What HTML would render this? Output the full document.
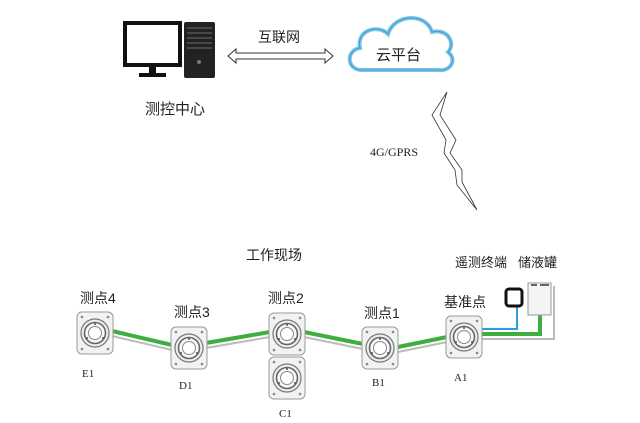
<!DOCTYPE html>
<html><head><meta charset="utf-8"><style>
body{margin:0;background:#fff;}
svg{display:block;}
text{font-family:"Liberation Sans","Noto Sans CJK SC",sans-serif;fill:#222;}
.s{font-family:"Liberation Serif","Noto Serif CJK SC",serif;}
</style></head><body>
<svg width="640" height="423" viewBox="0 0 640 423" xmlns="http://www.w3.org/2000/svg">
<defs>
<g id="node">
<rect x="-18" y="-21" width="36" height="42" rx="5" fill="#f2f2f2" stroke="#999" stroke-width="1"/>
<circle cx="-13" cy="-16" r="1.3" fill="#888"/><circle cx="13" cy="-16" r="1.3" fill="#888"/>
<circle cx="-13" cy="16" r="1.3" fill="#888"/><circle cx="13" cy="16" r="1.3" fill="#888"/>
<circle r="14" fill="#eee" stroke="#777" stroke-width="1.2"/>
<circle r="10.5" fill="#f8f8f8" stroke="#666" stroke-width="1.6"/>
<circle r="6.5" fill="#fff" stroke="#888" stroke-width="1"/>
<circle cx="0" cy="-9" r="1" fill="#555"/><circle cx="-8" cy="5" r="1" fill="#555"/><circle cx="8" cy="5" r="1" fill="#555"/>
</g>
</defs>
<rect x="125" y="23" width="55" height="42" fill="#fff" stroke="#111" stroke-width="4"/>
<rect x="149" y="65" width="7" height="9" fill="#111"/>
<rect x="139" y="73" width="27" height="4" fill="#111"/>
<rect x="184" y="22" width="31" height="56" rx="2" fill="#222"/>
<g stroke="#555" stroke-width="1.5"><line x1="187" y1="28" x2="212" y2="28"/><line x1="187" y1="33" x2="212" y2="33"/><line x1="187" y1="38" x2="212" y2="38"/><line x1="187" y1="43" x2="212" y2="43"/><line x1="187" y1="48" x2="212" y2="48"/></g>
<circle cx="199" cy="62" r="2" fill="#777"/>
<text x="145" y="114" font-size="15">测控中心</text>
<path d="M228,56 L236,49 L236,53 L325,53 L325,49 L333,56 L325,63 L325,59 L236,59 L236,63 Z" fill="#fff" stroke="#333" stroke-width="1"/>
<text x="258" y="42" font-size="14">互联网</text>
<path d="M362,70 C346,70 346,50 360,48 C356,30 378,24 388,34 C394,14 426,12 432,32 C448,28 456,44 448,52 C458,60 450,72 438,70 Z" fill="#fff" stroke="#7cc3e6" stroke-width="4"/>
<path d="M362,70 C346,70 346,50 360,48 C356,30 378,24 388,34 C394,14 426,12 432,32 C448,28 456,44 448,52 C458,60 450,72 438,70 Z" fill="none" stroke="#3a9fd0" stroke-width="1"/>
<text x="376" y="60" font-size="15">云平台</text>
<path d="M447,92 L432,115 L446,140 L444,153 L455,170 L457,185 L477,210 L462,182 L462,170 L450,153 L456,140 L440,115 Z" fill="#fff" stroke="#333" stroke-width="0.8"/>
<text class="s" x="370" y="156" font-size="12">4G/GPRS</text>
<text x="246" y="260" font-size="14">工作现场</text>
<g stroke="#bbb" stroke-width="2" fill="none">
<polyline points="112,336 172,350"/><polyline points="206,348 270,337"/><polyline points="304,337 363,349"/><polyline points="398,352 447,342"/>
<polyline points="482,339 554,339 554,286"/>
</g>
<g stroke="#3fae3f" stroke-width="4" fill="none">
<polyline points="112,331 172,345"/><polyline points="206,343 270,332"/><polyline points="304,332 363,344"/><polyline points="398,347 447,337"/>
<polyline points="482,334 540,334 540,314"/>
</g>
<polyline points="482,329 517,329 517,306" stroke="#2a9fe0" stroke-width="2" fill="none"/>
<rect x="506" y="289" width="16" height="17" rx="3" fill="#fff" stroke="#111" stroke-width="3"/>
<rect x="528" y="283" width="23" height="32" fill="#f4f4f4" stroke="#999" stroke-width="1"/>
<line x1="531" y1="285" x2="537" y2="285" stroke="#333" stroke-width="1.5"/><line x1="540" y1="285" x2="549" y2="285" stroke="#333" stroke-width="1.5"/>
<use href="#node" x="95" y="333"/>
<use href="#node" x="189" y="348"/>
<use href="#node" x="287" y="334"/>
<use href="#node" x="287" y="378"/>
<use href="#node" x="380" y="348"/>
<use href="#node" x="464" y="337"/>
<g font-size="14">
<text x="80" y="303">测点4</text>
<text x="174" y="317">测点3</text>
<text x="268" y="303">测点2</text>
<text x="364" y="318">测点1</text>
<text x="444" y="307">基准点</text>
<text x="455" y="267" font-size="13">遥测终端</text>
<text x="518" y="267" font-size="13">储液罐</text>
</g>
<g font-size="11">
<text class="s" x="82" y="377">E1</text>
<text class="s" x="179" y="389">D1</text>
<text class="s" x="279" y="417">C1</text>
<text class="s" x="372" y="386">B1</text>
<text class="s" x="454" y="381">A1</text>
</g>
</svg>
</body></html>
